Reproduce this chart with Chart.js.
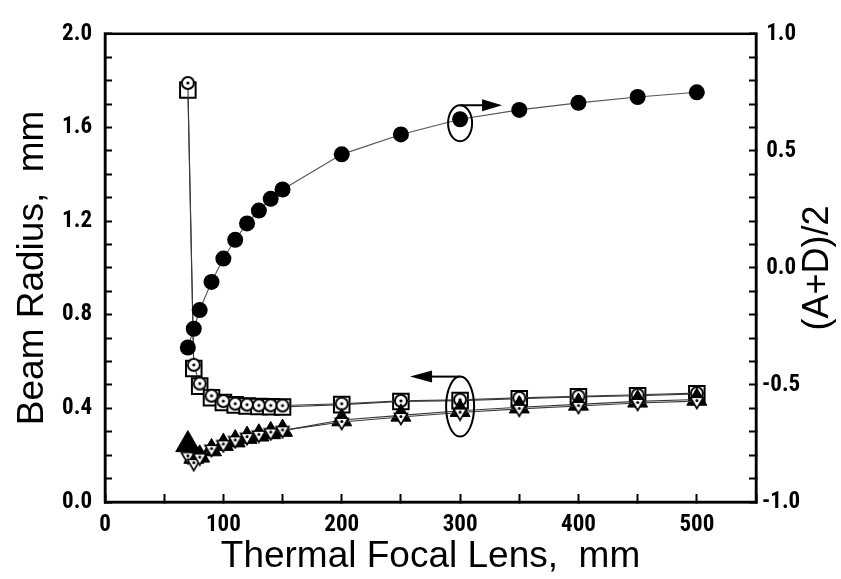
<!DOCTYPE html>
<html>
<head>
<meta charset="utf-8">
<script src="https://cdn.jsdelivr.net/npm/chart.js@4.4.1/dist/chart.umd.min.js"></script>
<style>
  html, body { margin: 0; padding: 0; background: #fff; }
  canvas { display: block; }
</style>
</head>
<body>
<canvas id="chart" width="841" height="579"></canvas>
<script>
// Thermal focal length of the crystal (mm)
const focalLens = [70, 75, 80, 90, 100, 110, 120, 130, 140, 150, 200, 250, 300, 350, 400, 450, 500];

// Beam radius (mm), four traces on the left axis
const radiusSquare   = [1.76, 0.57, 0.495, 0.445, 0.425, 0.415, 0.41, 0.408, 0.407, 0.406, 0.416, 0.429, 0.433, 0.441, 0.449, 0.454, 0.462];
const radiusCircle   = [1.79, 0.586, 0.506, 0.454, 0.431, 0.42, 0.416, 0.413, 0.413, 0.412, 0.42, 0.432, 0.437, 0.445, 0.452, 0.458, 0.465];
const radiusUpTri    = [0.245, 0.19, 0.195, 0.222, 0.245, 0.26, 0.275, 0.285, 0.295, 0.305, 0.35, 0.37, 0.39, 0.405, 0.417, 0.43, 0.438];
const radiusDownTri  = [0.195, 0.166, 0.19, 0.226, 0.246, 0.263, 0.277, 0.287, 0.297, 0.306, 0.342, 0.363, 0.382, 0.398, 0.41, 0.423, 0.431];

// Stability parameter (A+D)/2, right axis
const halfTrace = [-0.34, -0.26, -0.18, -0.06, 0.04, 0.12, 0.19, 0.245, 0.295, 0.335, 0.485, 0.57, 0.635, 0.675, 0.705, 0.73, 0.75];

// Axis ranges and tick spacing
const xRange = [0, 550];
const xStep = 50, xLabelEvery = 100;
const yRange = [0, 2.0];
const yStep = 0.1, yLabelEvery = 0.4;
const y2Range = [-1.0, 1.0];
const y2Step = 0.1, y2LabelEvery = 0.5;

// Where the "which axis" callouts sit (data units)
const calloutX = 300;

const TICK_FONT = { family: "'Roboto Condensed', 'Liberation Sans', Arial, sans-serif", weight: 'bold', size: 23 };
const TITLE_FAMILY = "'Liberation Sans', Arial, Helvetica, sans-serif";
const TITLE_SIZE = 37;

// ---- marker sprites ----
function circleDotSprite() {
  const c = document.createElement('canvas');
  c.width = 16; c.height = 16;
  const g = c.getContext('2d');
  g.beginPath(); g.arc(8, 8, 6, 0, Math.PI * 2);
  g.fillStyle = '#fff'; g.fill();
  g.lineWidth = 2; g.strokeStyle = '#000'; g.stroke();
  g.beginPath(); g.arc(8, 8, 1.6, 0, Math.PI * 2);
  g.fillStyle = '#000'; g.fill();
  return c;
}
function downTriDotSprite() {
  const c = document.createElement('canvas');
  c.width = 18; c.height = 18;
  const g = c.getContext('2d');
  const r = 7.5, cx = 9, cy = 9;
  g.beginPath();
  g.moveTo(cx, cy + r);
  g.lineTo(cx - r * 0.866, cy - r / 2);
  g.lineTo(cx + r * 0.866, cy - r / 2);
  g.closePath();
  g.fillStyle = '#fff'; g.fill();
  g.lineWidth = 1.6; g.strokeStyle = '#000'; g.stroke();
  g.beginPath(); g.arc(cx, cy - 0.5, 1.5, 0, Math.PI * 2);
  g.fillStyle = '#000'; g.fill();
  return c;
}

const pts = (ys) => focalLens.map((x, i) => ({ x, y: ys[i] }));
const LINE = '#3a3a3a';

// ---- frame, callouts and right-hand title ----
const decorations = {
  id: 'decorations',
  afterDatasetsDraw(chart) {
    const { ctx, chartArea: a, scales } = chart;
    ctx.save();
    ctx.strokeStyle = '#000';
    ctx.fillStyle = '#000';
    ctx.lineWidth = 2;

    const i = focalLens.indexOf(calloutX);
    const px = scales.x.getPixelForValue(calloutX);

    // (A+D)/2 callout: ellipse round the point, arrow to the right axis
    const pyU = scales.y2.getPixelForValue(halfTrace[i]) + 4;
    const rxU = 12, ryU = 18;
    ctx.beginPath(); ctx.ellipse(px, pyU, rxU, ryU, 0, 0, Math.PI * 2); ctx.stroke();
    const ayU = pyU - ryU;
    ctx.beginPath(); ctx.moveTo(px, ayU); ctx.lineTo(px + 24, ayU); ctx.stroke();
    ctx.beginPath(); ctx.moveTo(px + 42, ayU); ctx.lineTo(px + 22, ayU - 6); ctx.lineTo(px + 22, ayU + 6); ctx.closePath(); ctx.fill();

    // Beam radius callout: ellipse round the pair of traces, arrow to the left axis
    const pyL = (scales.y.getPixelForValue(radiusSquare[i]) + scales.y.getPixelForValue(radiusDownTri[i])) / 2;
    const rxL = 14, ryL = 30;
    ctx.beginPath(); ctx.ellipse(px, pyL, rxL, ryL, 0, 0, Math.PI * 2); ctx.stroke();
    const ayL = pyL - ryL;
    ctx.beginPath(); ctx.moveTo(px, ayL); ctx.lineTo(px - 30, ayL); ctx.stroke();
    ctx.beginPath(); ctx.moveTo(px - 50, ayL); ctx.lineTo(px - 28, ayL - 6); ctx.lineTo(px - 28, ayL + 6); ctx.closePath(); ctx.fill();

    // plot frame
    ctx.lineWidth = 2.5;
    ctx.strokeRect(a.left, a.top, a.right - a.left, a.bottom - a.top);

    // right axis title, reading bottom to top
    ctx.font = `36px ${TITLE_FAMILY}`;
    ctx.textAlign = 'center';
    ctx.textBaseline = 'middle';
    ctx.translate(818, (a.top + a.bottom) / 2);
    ctx.rotate(-Math.PI / 2);
    ctx.fillText('(A+D)/2', 0, 0);
    ctx.restore();
  }
};

const near = (v, step) => Math.abs(v / step - Math.round(v / step)) < 1e-6;

new Chart(document.getElementById('chart'), {
  type: 'scatter',
  data: {
    datasets: [
      {
        label: 'w (square)', data: pts(radiusSquare), yAxisID: 'y', showLine: true, order: 5,
        borderColor: LINE, borderWidth: 1.1,
        pointStyle: 'rect', pointRadius: 11, pointBackgroundColor: '#fff',
        pointBorderColor: '#000', pointBorderWidth: 2
      },
      {
        label: 'w (circle)', data: pts(radiusCircle), yAxisID: 'y', showLine: true, order: 4,
        borderColor: LINE, borderWidth: 1.1,
        pointStyle: circleDotSprite(), pointRadius: 8
      },
      {
        label: 'w (up)', data: pts(radiusUpTri), yAxisID: 'y', showLine: true, order: 3,
        borderColor: LINE, borderWidth: 1.1,
        pointStyle: 'triangle', pointRadius: focalLens.map((x, k) => k === 0 ? 14 : 11.5),
        pointBackgroundColor: '#000', pointBorderColor: '#000', pointBorderWidth: 1
      },
      {
        label: 'w (down)', data: pts(radiusDownTri), yAxisID: 'y', showLine: true, order: 2,
        borderColor: LINE, borderWidth: 1.1,
        pointStyle: downTriDotSprite(), pointRadius: 9
      },
      {
        label: '(A+D)/2', data: pts(halfTrace), yAxisID: 'y2', showLine: true, order: 1,
        borderColor: '#555', borderWidth: 1.1,
        pointStyle: 'circle', pointRadius: 8, pointBackgroundColor: '#000',
        pointBorderColor: '#000', pointBorderWidth: 0
      }
    ]
  },
  options: {
    responsive: false,
    animation: false,
    devicePixelRatio: 1,
    layout: { padding: { top: 17, left: 0, right: 0, bottom: 0 } },
    plugins: { legend: { display: false }, tooltip: { enabled: false } },
    scales: {
      x: {
        type: 'linear', position: 'bottom', min: xRange[0], max: xRange[1],
        ticks: {
          stepSize: xStep, autoSkip: false, maxRotation: 0, padding: 17,
          color: '#000', font: TICK_FONT,
          callback: (v) => near(v, xLabelEvery) ? String(Math.round(v)) : ''
        },
        grid: { drawOnChartArea: false, drawTicks: true, tickLength: -8, tickWidth: 2, tickColor: '#000' },
        border: { display: true, color: '#000', width: 2.5 },
        title: {
          display: true, text: 'Thermal Focal Lens,  mm', color: '#000',
          font: { family: TITLE_FAMILY, size: TITLE_SIZE }, padding: { top: 0, bottom: 0 }
        },
        afterFit: (s) => { s.height = 77; }
      },
      y: {
        type: 'linear', position: 'left', min: yRange[0], max: yRange[1],
        ticks: {
          stepSize: yStep, autoSkip: false, padding: 20, color: '#000', font: TICK_FONT,
          callback: (v) => near(v, yLabelEvery) ? v.toFixed(1) : ''
        },
        grid: { drawOnChartArea: false, drawTicks: true, tickLength: -7, tickWidth: 2, tickColor: '#000' },
        border: { display: true, color: '#000', width: 2.5 },
        title: {
          display: true, text: 'Beam Radius,  mm', color: '#000',
          font: { family: TITLE_FAMILY, size: TITLE_SIZE }, padding: { top: 11, bottom: 0 }
        },
        afterFit: (s) => { s.width = 105; }
      },
      y2: {
        type: 'linear', position: 'right', min: y2Range[0], max: y2Range[1],
        ticks: {
          stepSize: y2Step, autoSkip: false, padding: 13, crossAlign: 'center',
          color: '#000', font: TICK_FONT,
          callback: (v) => near(v, y2LabelEvery) ? v.toFixed(1) : ''
        },
        grid: { drawOnChartArea: false, drawTicks: true, tickLength: -7, tickWidth: 2, tickColor: '#000' },
        border: { display: true, color: '#000', width: 2.5 },
        afterFit: (s) => { s.width = 85; }
      }
    }
  },
  plugins: [decorations]
});
</script>
</body>
</html>
